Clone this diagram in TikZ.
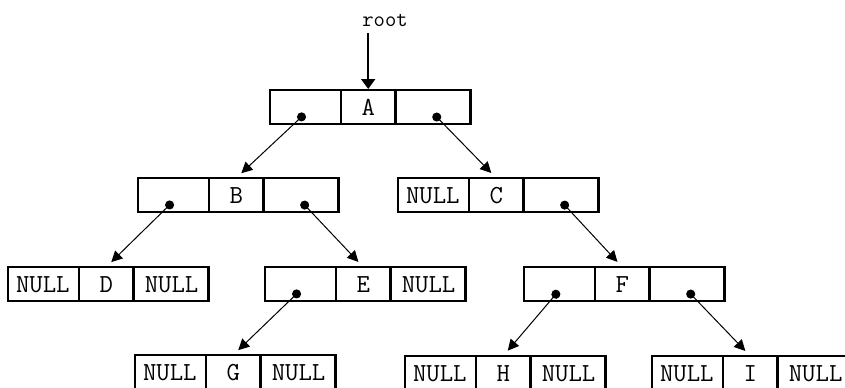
\documentclass[tikz,border=0pt]{standalone}
\usetikzlibrary{calc,positioning,shapes.multipart,arrows.meta}

% the three fields of one tree record
\newcommand{\fields}[3]{%
  \makebox[34.8pt]{\rule[-1.5pt]{0pt}{11pt}#1}\nodepart{two}%
  \makebox[25.8pt]{\rule[-1.5pt]{0pt}{11pt}#2}\nodepart{three}%
  \makebox[36.8pt]{\rule[-1.5pt]{0pt}{11pt}#3}}

\begin{document}
\begin{tikzpicture}[
    x=0.5pt, y=-0.5pt,
    font=\ttfamily\fontsize{13}{15}\selectfont,
    record/.style={rectangle split, rectangle split horizontal, rectangle split parts=3,
      draw=black, line width=1.4pt, inner xsep=0pt, inner ysep=3pt, outer sep=0pt,
      anchor=north west},
    label/.style={font=\ttfamily\fontsize{11}{13}\selectfont},
    entry/.style={-{Triangle[length=5pt,width=7pt]}, line width=1pt, shorten >=0.5pt},
    ptr/.style={{Circle[length=4.5pt]}-{Triangle[length=5.5pt,width=5.5pt]},
      line width=0.5pt, shorten >=3.5pt},
  ]

  \clip (0,0) rectangle (845,387);

  % records
  \node (A) [record] at (270,90)  {\fields{}{A}{}};

  \node (B) [record] at (138,178) {\fields{}{B}{}};
  \node (C) [record] at (398,178) {\fields{NULL}{C}{}};

  \node (D) [record] at (8,267)   {\fields{NULL}{D}{NULL}};
  \node (E) [record] at (265,267) {\fields{}{E}{NULL}};
  \node (F) [record] at (524,267) {\fields{}{F}{}};

  \node (G) [record] at (135,355) {\fields{NULL}{G}{NULL}};
  \node (H) [record] at (405,356) {\fields{NULL}{H}{NULL}};
  \node (I) [record] at (652,356) {\fields{NULL}{I}{NULL}};

  % entry point
  \node (root) [label] at (385,20) {root};
  \draw[entry] (root.south -| A.two north) -- (A.two north);

  % child pointers
  \draw[ptr] ($(A.one south)!0.3!(A.one north)$)     -- (B.two north);
  \draw[ptr] ($(A.three south)!0.3!(A.three north)$) -- (C.two north);
  \draw[ptr] ($(B.one south)!0.3!(B.one north)$)     -- (D.two north);
  \draw[ptr] ($(B.three south)!0.3!(B.three north)$) -- (E.two north);
  \draw[ptr] ($(C.three south)!0.3!(C.three north)$) -- (F.two north);
  \draw[ptr] ($(E.one south)!0.3!(E.one north)$)     -- (G.two north);
  \draw[ptr] ($(F.one south)!0.3!(F.one north)$)     -- (H.two north);
  \draw[ptr] ($(F.three south)!0.3!(F.three north)$) -- (I.two north);

\end{tikzpicture}
\end{document}
